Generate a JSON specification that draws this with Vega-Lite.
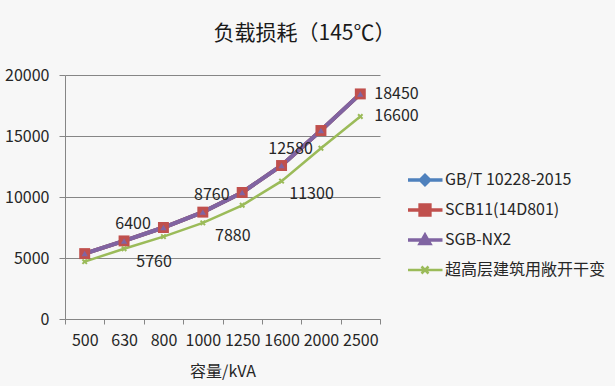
{
  "$schema": "https://vega.github.io/schema/vega-lite/v6.json",
  "width": 315,
  "height": 244,
  "autosize": {"type": "none"},
  "padding": {"left": 65, "top": 75, "right": 235, "bottom": 67},
  "background": "#f7f7f7",
  "config": {
    "font": "Noto Sans CJK SC",
    "view": {"stroke": null},
    "axis": {"labelColor": "#262626", "titleColor": "#262626", "labelFont": "Noto Sans CJK SC", "titleFont": "Noto Sans CJK SC", "titleFontWeight": "normal"},
    "legend": {"labelFont": "Noto Sans CJK SC"}
  },
  "title": {
    "text": "负载损耗（145℃）",
    "fontSize": 21,
    "fontWeight": "normal",
    "color": "#1a1a1a",
    "anchor": "middle",
    "frame": "group",
    "dx": 82,
    "baseline": "middle",
    "offset": 12
  },
  "data": {
    "values": [
      {"kva": "500", "series": "GB/T 10228-2015", "loss": 5360},
      {"kva": "630", "series": "GB/T 10228-2015", "loss": 6400},
      {"kva": "800", "series": "GB/T 10228-2015", "loss": 7500},
      {"kva": "1000", "series": "GB/T 10228-2015", "loss": 8760},
      {"kva": "1250", "series": "GB/T 10228-2015", "loss": 10370},
      {"kva": "1600", "series": "GB/T 10228-2015", "loss": 12580},
      {"kva": "2000", "series": "GB/T 10228-2015", "loss": 15450},
      {"kva": "2500", "series": "GB/T 10228-2015", "loss": 18450},
      {"kva": "500", "series": "SCB11(14D801)", "loss": 5360},
      {"kva": "630", "series": "SCB11(14D801)", "loss": 6400},
      {"kva": "800", "series": "SCB11(14D801)", "loss": 7500},
      {"kva": "1000", "series": "SCB11(14D801)", "loss": 8760},
      {"kva": "1250", "series": "SCB11(14D801)", "loss": 10370},
      {"kva": "1600", "series": "SCB11(14D801)", "loss": 12580},
      {"kva": "2000", "series": "SCB11(14D801)", "loss": 15450},
      {"kva": "2500", "series": "SCB11(14D801)", "loss": 18450},
      {"kva": "500", "series": "SGB-NX2", "loss": 5360},
      {"kva": "630", "series": "SGB-NX2", "loss": 6400},
      {"kva": "800", "series": "SGB-NX2", "loss": 7500},
      {"kva": "1000", "series": "SGB-NX2", "loss": 8760},
      {"kva": "1250", "series": "SGB-NX2", "loss": 10370},
      {"kva": "1600", "series": "SGB-NX2", "loss": 12580},
      {"kva": "2000", "series": "SGB-NX2", "loss": 15450},
      {"kva": "2500", "series": "SGB-NX2", "loss": 18450},
      {"kva": "500", "series": "超高层建筑用敞开干变", "loss": 4700},
      {"kva": "630", "series": "超高层建筑用敞开干变", "loss": 5760},
      {"kva": "800", "series": "超高层建筑用敞开干变", "loss": 6750},
      {"kva": "1000", "series": "超高层建筑用敞开干变", "loss": 7880},
      {"kva": "1250", "series": "超高层建筑用敞开干变", "loss": 9320},
      {"kva": "1600", "series": "超高层建筑用敞开干变", "loss": 11300},
      {"kva": "2000", "series": "超高层建筑用敞开干变", "loss": 14000},
      {"kva": "2500", "series": "超高层建筑用敞开干变", "loss": 16600}
    ]
  },
  "encoding": {
    "x": {
      "field": "kva",
      "type": "ordinal",
      "sort": ["500", "630", "800", "1000", "1250", "1600", "2000", "2500"],
      "scale": {"paddingInner": 0, "paddingOuter": 0},
      "axis": {
        "title": "容量/kVA",
        "titleFontSize": 16,
        "titlePadding": 15,
        "labelAngle": 0,
        "labelFontSize": 16,
        "labelPadding": 8,
        "tickSize": 5,
        "tickBand": "extent",
        "domainColor": "#868686",
        "tickColor": "#868686",
        "grid": false
      }
    },
    "y": {
      "field": "loss",
      "type": "quantitative",
      "scale": {"domain": [0, 20000], "nice": false},
      "axis": {
        "title": null,
        "values": [0, 5000, 10000, 15000, 20000],
        "format": "d",
        "labelFontSize": 16,
        "labelPadding": 10,
        "tickSize": 6,
        "tickColor": "#868686",
        "domainColor": "#868686",
        "gridColor": "#868686",
        "grid": true
      }
    }
  },
  "layer": [
    {
      "mark": {"type": "line"},
      "encoding": {
        "color": {
          "field": "series",
          "type": "nominal",
          "sort": null,
          "scale": {
            "domain": ["GB/T 10228-2015", "SCB11(14D801)", "SGB-NX2", "超高层建筑用敞开干变"],
            "range": ["#4F81BD", "#C0504D", "#8064A2", "#9BBB59"]
          },
          "legend": {
            "title": null,
            "orient": "none",
            "legendX": 343,
            "legendY": 90,
            "labelFontSize": 16,
            "labelColor": "#262626",
            "labelOffset": 12,
            "symbolSize": 1225,
            "symbolOffset": 9,
            "clipHeight": 30,
            "rowPadding": 0,
            "labelLimit": 300,
            "encode": {
              "symbols": {
                "update": {
                  "shape": {"signal": "datum.value === 'GB/T 10228-2015' ? 'M-1,0H1M0,-0.26L0.26,0L0,0.26L-0.26,0Z' : datum.value === 'SCB11(14D801)' ? 'M-1,0H1M-0.28,-0.28H0.28V0.28H-0.28Z' : datum.value === 'SGB-NX2' ? 'M-1,0H1M0,-0.27L0.27,0.2H-0.27Z' : 'M-1,0H1M-0.2,-0.2L0.2,0.2M-0.2,0.2L0.2,-0.2'"},
                  "fill": {"scale": "color", "field": "value"},
                  "stroke": {"scale": "color", "field": "value"},
                  "strokeWidth": {"signal": "datum.value === '超高层建筑用敞开干变' ? 2.5 : 3.5"},
                  "size": {"value": 1225},
                  "opacity": {"value": 1}
                }
              }
            }
          }
        },
        "strokeWidth": {
          "condition": {"test": "datum.series === '超高层建筑用敞开干变'", "value": 2.5},
          "value": 4
        }
      }
    },
    {
      "transform": [{"filter": "datum.series === 'GB/T 10228-2015'"}],
      "mark": {"type": "point", "shape": "diamond", "filled": true, "size": 60, "opacity": 1, "color": "#4F81BD"}
    },
    {
      "transform": [{"filter": "datum.series === 'SCB11(14D801)'"}],
      "mark": {"type": "point", "shape": "square", "filled": true, "size": 120, "opacity": 1, "color": "#C0504D"}
    },
    {
      "transform": [{"filter": "datum.series === 'SGB-NX2'"}],
      "mark": {"type": "point", "shape": "triangle-up", "filled": true, "size": 40, "opacity": 1, "color": "#8064A2"}
    },
    {
      "transform": [{"filter": "datum.series === '超高层建筑用敞开干变'"}],
      "mark": {"type": "point", "shape": "M-1,-1L1,1M-1,1L1,-1", "filled": false, "size": 20, "strokeWidth": 2, "opacity": 1, "color": "#9BBB59"}
    },
    {
      "transform": [{"filter": "datum.series === 'SGB-NX2' && (datum.kva === '630' || datum.kva === '1000' || datum.kva === '1600')"}],
      "mark": {"type": "text", "fontSize": 16, "color": "#262626", "align": "center", "baseline": "middle", "dx": 9, "dy": -17},
      "encoding": {"text": {"field": "loss", "type": "quantitative", "format": "d"}}
    },
    {
      "transform": [{"filter": "datum.series === '超高层建筑用敞开干变' && (datum.kva === '630' || datum.kva === '1000' || datum.kva === '1600')"}],
      "mark": {"type": "text", "fontSize": 16, "color": "#262626", "align": "center", "baseline": "middle", "dx": 30, "dy": 13},
      "encoding": {"text": {"field": "loss", "type": "quantitative", "format": "d"}}
    },
    {
      "transform": [{"filter": "(datum.series === 'SGB-NX2' || datum.series === '超高层建筑用敞开干变') && datum.kva === '2500'"}],
      "mark": {"type": "text", "fontSize": 16, "color": "#262626", "align": "left", "baseline": "middle", "dx": 14, "dy": 0},
      "encoding": {"text": {"field": "loss", "type": "quantitative", "format": "d"}}
    }
  ]
}
